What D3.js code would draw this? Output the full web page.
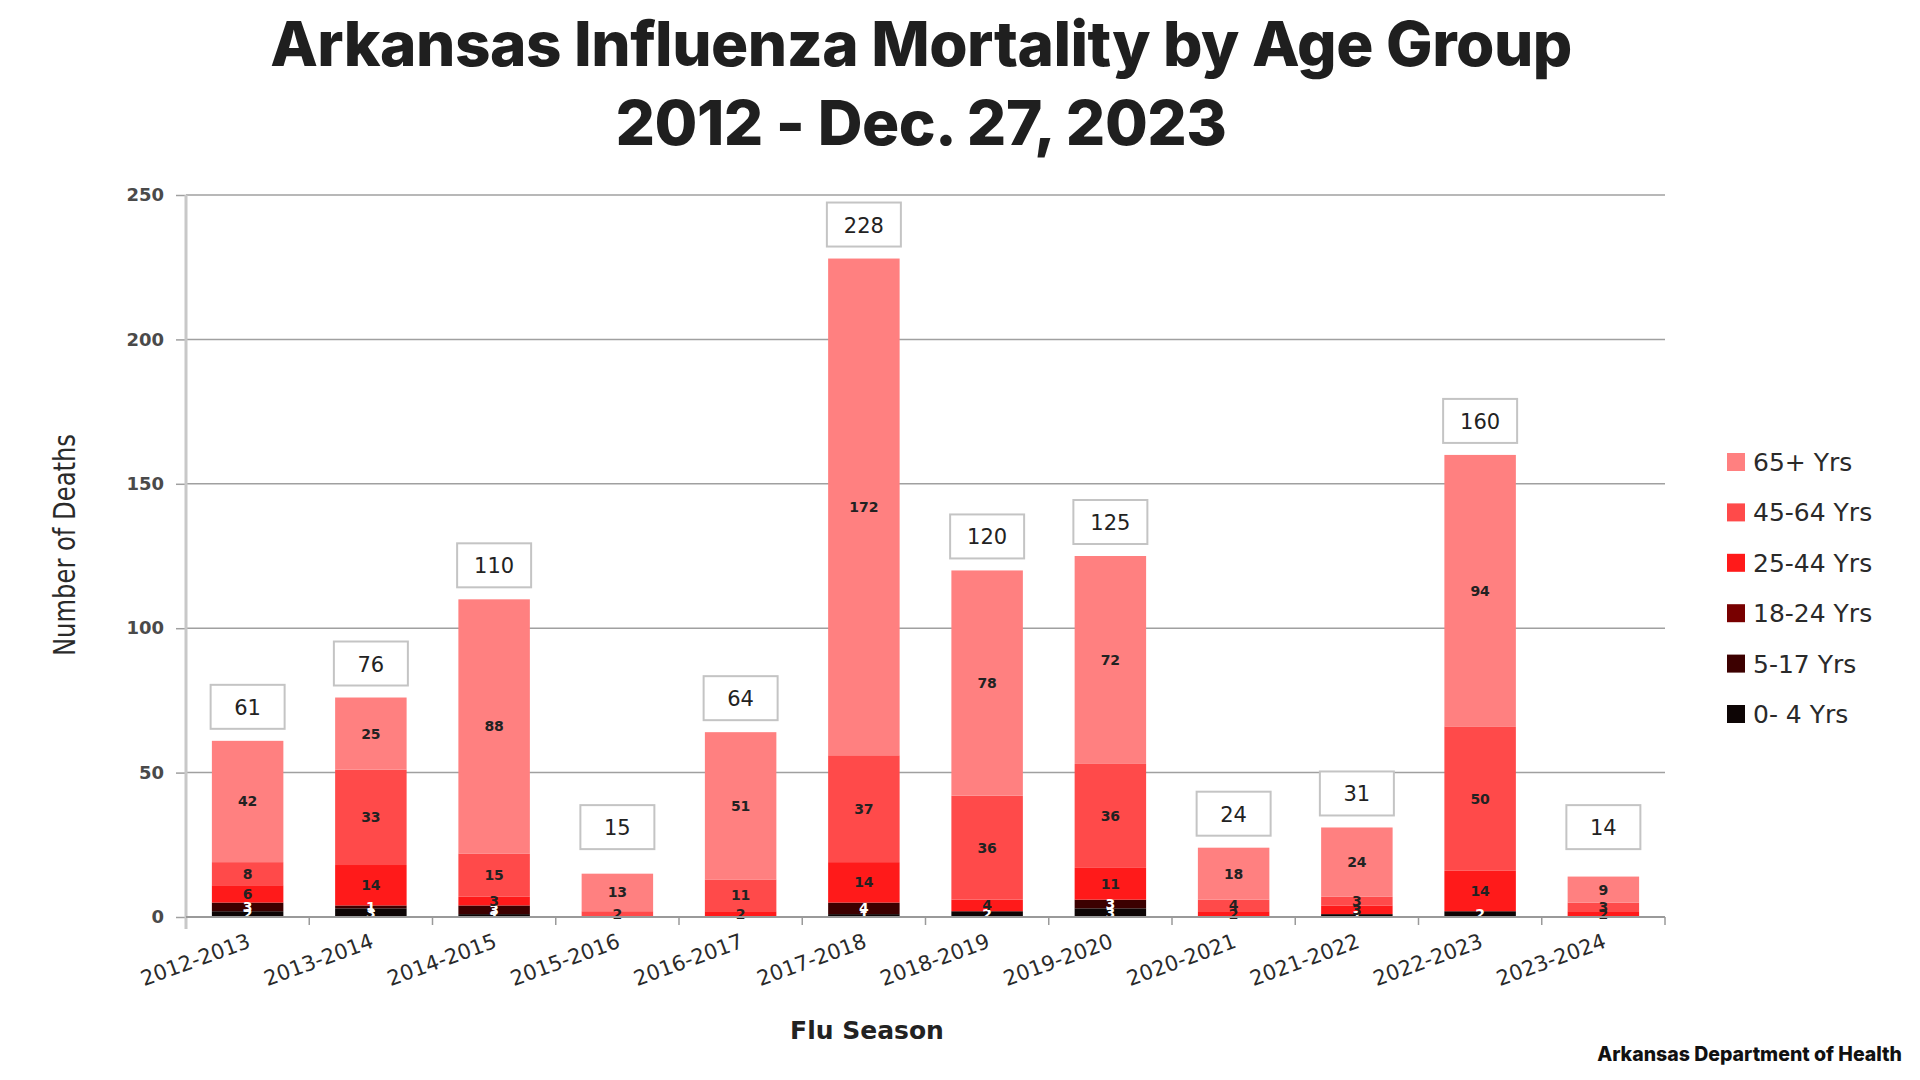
<!DOCTYPE html>
<html><head><meta charset="utf-8">
<script src="https://cdn.jsdelivr.net/npm/d3@7"></script>
<style>
body{margin:0;background:#fff;}
svg{display:block;}
</style></head>
<body>
<svg id="c" width="1920" height="1080"></svg>
<script>
const seasons = ["2012-2013","2013-2014","2014-2015","2015-2016","2016-2017","2017-2018","2018-2019","2019-2020","2020-2021","2021-2022","2022-2023","2023-2024"];
const groups = ["0- 4 Yrs","5-17 Yrs","18-24 Yrs","25-44 Yrs","45-64 Yrs","65+ Yrs"];
const age0_4   = [2, 3, 1, 0, 0, 1, 2, 3, 0, 1, 2, 0];
const age5_17  = [3, 1, 3, 0, 0, 4, 0, 3, 0, 0, 0, 0];
const age18_24 = [0, 0, 0, 0, 0, 0, 0, 0, 0, 0, 0, 0];
const age25_44 = [6, 14, 3, 0, 2, 14, 4, 11, 2, 3, 14, 2];
const age45_64 = [8, 33, 15, 2, 11, 37, 36, 36, 4, 3, 50, 3];
const age65    = [42, 25, 88, 13, 51, 172, 78, 72, 18, 24, 94, 9];
const totals   = [61, 76, 110, 15, 64, 228, 120, 125, 24, 31, 160, 14];
const yTicks = [0, 50, 100, 150, 200, 250];
const colors = ["#0d0505","#3c0000","#780000","#ff1a1a","#ff4a4a","#ff8080"];
const labelColors = ["#fff","#fff","#fff","#222","#222","#222"];

const series = [age0_4, age5_17, age18_24, age25_44, age45_64, age65];
const rows = seasons.map((s,i)=>{const r={season:s}; groups.forEach((g,j)=>r[g]=series[j][i]); return r;});

const svg = d3.select("#c");
const x0 = 186, x1 = 1665, yTop = 195, yBot = 917;
const x = d3.scaleBand().domain(seasons).range([x0, x1]).paddingInner(0.42).paddingOuter(0.21);
const y = d3.scaleLinear().domain([0,250]).range([yBot, yTop]);

// title
svg.append("text").attr("x",921).attr("y",66).attr("text-anchor","middle")
  .attr("font-family","Inter").attr("font-weight",800).attr("font-size",62).attr("fill","#1f1f1f")
  .attr("letter-spacing","-0.5").text("Arkansas Influenza Mortality by Age Group");
svg.append("text").attr("x",921).attr("y",145).attr("text-anchor","middle")
  .attr("font-family","Inter").attr("font-weight",800).attr("font-size",62).attr("fill","#1f1f1f")
  .attr("letter-spacing","-0.5").text("2012 - Dec. 27, 2023");

// gridlines
svg.append("g").selectAll("line").data(yTicks.filter(d=>d>0)).join("line")
  .attr("x1",x0).attr("x2",x1).attr("y1",d=>y(d)).attr("y2",d=>y(d))
  .attr("stroke","#a0a0a0").attr("stroke-width",1.5);

// y axis
const yAxis = d3.axisLeft(y).tickValues(yTicks).tickSize(10).tickPadding(12);
const gy = svg.append("g").attr("transform",`translate(${x0},0)`).call(yAxis);
gy.select(".domain").remove();
gy.selectAll(".tick line").attr("stroke","#a0a0a0").attr("stroke-width",1.5);
gy.selectAll(".tick text").attr("font-family","Verdana, DejaVu Sans").attr("font-size",18).attr("font-weight","bold").attr("fill","#4a4a4a");
svg.append("line").attr("x1",x0).attr("x2",x0).attr("y1",yTop).attr("y2",yBot+12)
  .attr("stroke","#c8c8c8").attr("stroke-width",3);

// stacked bars
const stack = d3.stack().keys(groups)(rows);
const gBars = svg.append("g");
stack.forEach((layer,j)=>{
  gBars.append("g").selectAll("rect").data(layer).join("rect")
    .attr("x",d=>x(d.data.season)).attr("width",x.bandwidth())
    .attr("y",d=>y(d[1])).attr("height",d=>y(d[0])-y(d[1]))
    .attr("fill",colors[j]);
});
stack.forEach((layer,j)=>{
  gBars.append("g").selectAll("text").data(layer.filter(d=>d[1]-d[0]>0)).join("text")
    .attr("x",d=>x(d.data.season)+x.bandwidth()/2)
    .attr("y",d=>(y(d[0])+y(d[1]))/2+5)
    .attr("text-anchor","middle").attr("font-family","Verdana, DejaVu Sans").attr("font-weight","bold")
    .attr("font-size",14).attr("fill",labelColors[j])
    .text(d=>d[1]-d[0]);
});

// x axis
svg.append("line").attr("x1",x0).attr("x2",x1).attr("y1",yBot).attr("y2",yBot).attr("stroke","#9a9a9a").attr("stroke-width",2);
const gx = svg.append("g");
seasons.forEach((s,i)=>{
  const xb = x0 + (x1-x0)/seasons.length*(i+1);
  gx.append("line").attr("x1",xb).attr("x2",xb).attr("y1",yBot).attr("y2",yBot+8).attr("stroke","#9a9a9a").attr("stroke-width",1.5);
});
gx.selectAll("text").data(seasons).join("text")
  .attr("transform",d=>`translate(${x(d)+x.bandwidth()/2+4},${yBot+30}) rotate(-20)`)
  .attr("text-anchor","end").attr("font-family","Verdana, DejaVu Sans").attr("font-size",21).attr("fill","#2a2a2a")
  .text(d=>d);

// total boxes
const gt = svg.append("g");
seasons.forEach((s,i)=>{
  const cx = x(s)+x.bandwidth()/2;
  const bottom = Math.min(y(totals[i]) - 12, y(23.5));
  gt.append("rect").attr("x",cx-37).attr("y",bottom-44).attr("width",74).attr("height",44)
    .attr("fill","#fff").attr("stroke","#c4c4c4").attr("stroke-width",2);
  gt.append("text").attr("x",cx).attr("y",bottom-14).attr("text-anchor","middle")
    .attr("font-family","Verdana, DejaVu Sans").attr("font-size",21).attr("fill","#222").text(totals[i]);
});

// axis titles
svg.append("text").attr("transform","translate(75,545) rotate(-90)").attr("text-anchor","middle")
  .attr("font-family","Liberation Sans Narrow, DejaVu Sans Condensed, Roboto")
  .attr("font-size",30).attr("fill","#2a2a2a")
  .attr("textLength",222).attr("lengthAdjust","spacingAndGlyphs").text("Number of Deaths");
svg.append("text").attr("x",867).attr("y",1039).attr("text-anchor","middle")
  .attr("font-family","Verdana, DejaVu Sans").attr("font-weight","bold").attr("font-size",25).attr("fill","#222").text("Flu Season");

// legend
const legOrder = groups.slice().reverse();
const legColors = colors.slice().reverse();
const gl = svg.append("g");
legOrder.forEach((g,i)=>{
  const ly = 462 + i*50.4;
  gl.append("rect").attr("x",1727).attr("y",ly-9).attr("width",18).attr("height",18).attr("fill",legColors[i]);
  gl.append("text").attr("x",1753).attr("y",ly+9).attr("font-family","Verdana, DejaVu Sans").attr("font-size",25).attr("fill","#2a2a2a").text(g);
});

// source
svg.append("text").attr("x",1902).attr("y",1061).attr("text-anchor","end")
  .attr("font-family","Inter").attr("font-weight",800).attr("font-size",19.5).attr("fill","#111").text("Arkansas Department of Health");
</script>
</body></html>
